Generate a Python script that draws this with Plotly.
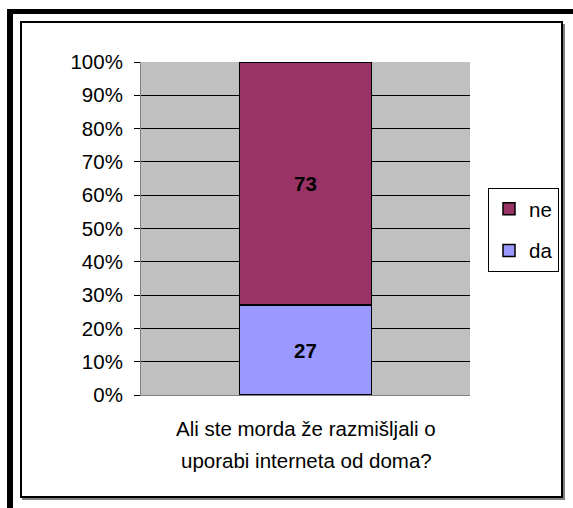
import plotly.graph_objects as go

categories = ["Ali ste morda že razmišljali o<br>uporabi interneta od doma?"]
series_names = ["da", "ne"]
da_values = [27]
ne_values = [73]
y_ticks = [0, 10, 20, 30, 40, 50, 60, 70, 80, 90, 100]
y_tick_labels = [f"{v}%" for v in y_ticks]

W, H = 573, 508
L, R, T, B = 141, 470, 62, 395
PW, PH = R - L, B - T


def px(x):
    return (x - L) / PW


def py(y):
    return (B - y) / PH


FONT = "Liberation Sans, Arial, sans-serif"
FS = 20.5

fig = go.Figure()
fig.add_trace(go.Bar(
    x=[0], y=da_values, name=series_names[0], text=da_values,
    marker=dict(color="#9999FF", line=dict(color="black", width=1.5)),
    textposition="inside", insidetextanchor="middle",
    textfont=dict(family=FONT, size=FS, color="black", weight="bold"),
    legendgroup="da", legendrank=2, cliponaxis=False,
))
fig.add_trace(go.Bar(
    x=[0], y=ne_values, name=series_names[1], text=ne_values,
    marker=dict(color="#993366", line=dict(color="black", width=1.5)),
    textposition="inside", insidetextanchor="middle",
    textfont=dict(family=FONT, size=FS, color="black", weight="bold"),
    legendgroup="ne", legendrank=1, cliponaxis=False,
))

shapes = [
    # outer thick frame (left and top)
    dict(type="rect", xref="paper", yref="paper", x0=px(7), x1=px(13), y0=py(508), y1=py(9),
         fillcolor="black", line=dict(width=0)),
    dict(type="rect", xref="paper", yref="paper", x0=px(7), x1=px(573), y0=py(14), y1=py(9),
         fillcolor="black", line=dict(width=0)),
    # shadow of inner frame
    dict(type="rect", xref="paper", yref="paper", x0=px(563), x1=px(565), y0=py(500), y1=py(24),
         fillcolor="#808080", line=dict(width=0)),
    dict(type="rect", xref="paper", yref="paper", x0=px(22), x1=px(565), y0=py(500), y1=py(498),
         fillcolor="#808080", line=dict(width=0)),
    # inner frame
    dict(type="rect", xref="paper", yref="paper", x0=px(21), x1=px(562), y0=py(497), y1=py(22),
         line=dict(color="black", width=2)),
]

lines = categories[0].split("<br>")
annotations = [
    dict(text=lines[0], xref="paper", yref="paper", x=px(306), y=py(428),
         xanchor="center", yanchor="middle", showarrow=False,
         font=dict(family=FONT, size=FS, color="black")),
    dict(text=lines[1], xref="paper", yref="paper", x=px(306), y=py(460),
         xanchor="center", yanchor="middle", showarrow=False,
         font=dict(family=FONT, size=FS, color="black")),
]

fig.update_layout(
    width=W, height=H,
    margin=dict(l=L, r=W - R, t=T, b=H - B, autoexpand=False),
    paper_bgcolor="white", plot_bgcolor="#C0C0C0",
    barmode="stack", bargap=0.6,
    font=dict(family=FONT, size=FS, color="black"),
    showlegend=True,
    legend=dict(
        x=px(488), y=py(188), xanchor="left", yanchor="top",
        bordercolor="black", borderwidth=1, bgcolor="white",
        traceorder="grouped", tracegroupgap=12,
        font=dict(family=FONT, size=FS, color="black"),
        itemwidth=30,
    ),
    xaxis=dict(
        range=[-0.5, 0.5], showticklabels=False, showgrid=False, zeroline=False,
        showline=True, linecolor="#808080", linewidth=1, ticks="",
        fixedrange=True,
    ),
    yaxis=dict(
        range=[0, 100], tickvals=y_ticks, ticktext=y_tick_labels,
        showgrid=True, gridcolor="black", gridwidth=1,
        zeroline=False, showline=True, linecolor="#808080", linewidth=1,
        ticks="outside", ticklen=6, tickcolor="black",
        ticklabelstandoff=7,
        tickfont=dict(family=FONT, size=FS, color="black"),
    ),
    shapes=shapes,
    annotations=annotations,
)

fig.write_html("out.html", config={"displayModeBar": False},
               post_script="document.body.style.margin='0';")
